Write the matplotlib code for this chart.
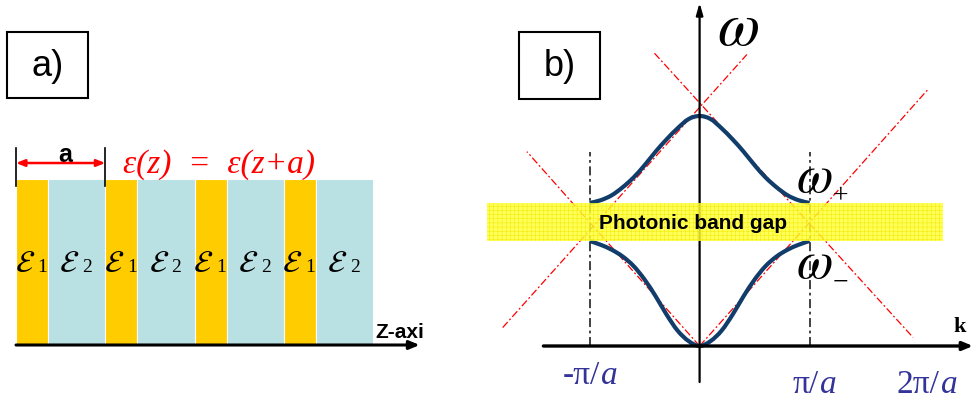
import matplotlib
matplotlib.use("Agg")
import matplotlib.pyplot as plt
from matplotlib.patches import Rectangle, PathPatch
from matplotlib.path import Path

plt.rcParams['mathtext.fontset'] = 'stix'

# ---------------- data ----------------
# panel a: 1D photonic crystal, thicknesses in units of the period a
n_periods = 4
eps1_thickness = 0.36
eps2_thickness = 0.64
stack_height = 1.86
layer_labels = ["1", "2"]
z_axis_end = 4.52

# panel b: band diagram, k in units of pi/a, omega in units of mid-gap
upper_k = [-1.0, -0.9, -0.8, -0.7, -0.6, -0.5, -0.4, -0.3, -0.2, -0.1, 0.0,
           0.1, 0.2, 0.3, 0.4, 0.5, 0.6, 0.7, 0.8, 0.9, 1.0]
upper_w = [1.163, 1.185, 1.225, 1.29, 1.37, 1.47, 1.58, 1.68, 1.77, 1.845, 1.87,
           1.845, 1.77, 1.68, 1.58, 1.47, 1.37, 1.29, 1.225, 1.185, 1.163]
lower_k = [-1.0, -0.9, -0.8, -0.7, -0.6, -0.5, -0.4, -0.3, -0.2, -0.1, 0.0,
           0.1, 0.2, 0.3, 0.4, 0.5, 0.6, 0.7, 0.8, 0.9, 1.0]
lower_w = [0.854, 0.823, 0.783, 0.728, 0.65, 0.54, 0.405, 0.255, 0.125, 0.04, 0.0,
           0.04, 0.125, 0.255, 0.405, 0.54, 0.65, 0.728, 0.783, 0.823, 0.854]
light_k0 = [0.0, 0.0, -0.41, -1.79]
light_w0 = [0.0, 0.0, 2.38, 0.15]
light_k1 = [2.07, -1.57, 1.94, 0.43]
light_w1 = [2.08, 1.58, 0.07, 2.37]
zone_edges = [-1.0, 1.0]
zone_line_top = 1.577
gap_bottom = 0.854
gap_top = 1.163
gap_k = [-1.93, 2.21]
tick_k = [-0.996, 0.99, 2.095]
tick_labels = ['-π/', 'π/', '2π/']
tick_base = [-0.309, -0.382, -0.382]

W, H = 974, 405
fig = plt.figure(figsize=(W / 100, H / 100), dpi=100)


def smooth_path(xs, ys):
    """Smooth curve through the given points (Catmull-Rom drawn as cubic Beziers)."""
    pts = list(zip(xs, ys))
    n = len(pts)
    verts = [pts[0]]
    codes = [Path.MOVETO]
    for i in range(n - 1):
        p0 = pts[max(i - 1, 0)]
        p1 = pts[i]
        p2 = pts[i + 1]
        p3 = pts[min(i + 2, n - 1)]
        c1 = (p1[0] + (p2[0] - p0[0]) / 6, p1[1] + (p2[1] - p0[1]) / 6)
        c2 = (p2[0] - (p3[0] - p1[0]) / 6, p2[1] - (p3[1] - p1[1]) / 6)
        verts += [c1, c2, p2]
        codes += [Path.CURVE4] * 3
    return Path(verts, codes)


# ---------------- panel a ----------------
sa = 89.3
axa = fig.add_axes([0, 0, 1, 1])
axa.set_xlim(-16 / sa, (W - 16) / sa)
axa.set_ylim(-(H - 345) / sa, 345 / sa)
axa.axis('off')

yellow = '#FFCC00'
cyan = '#B9E0E3'
x = 0.0
for p in range(n_periods):
    for th, col, lab in [(eps1_thickness, yellow, layer_labels[0]),
                         (eps2_thickness, cyan, layer_labels[1])]:
        axa.add_patch(Rectangle((x, 0), th, stack_height, facecolor=col,
                                edgecolor='white', lw=0.8, zorder=1))
        cx = x + th / 2
        axa.annotate(r'$\mathcal{E}$', (cx, 0.82), xytext=(2, 0),
                     textcoords='offset points', ha='right', va='baseline',
                     fontsize=22, color='black', zorder=3)
        axa.annotate(lab, (cx, 0.82), xytext=(4, 0), textcoords='offset points',
                     ha='left', va='baseline', fontsize=14,
                     family='Liberation Serif', color='black', zorder=3)
        x += th

# z axis
axa.annotate('', xy=(z_axis_end, 0), xytext=(0, 0),
             arrowprops=dict(arrowstyle='-|>,head_length=0.6,head_width=0.25',
                             lw=2.2, color='black', shrinkA=0, shrinkB=0), zorder=4)
axa.text((375 - 16) / sa, (345 - 338) / sa, 'Z-axi', fontsize=15, fontweight='bold',
         family='Liberation Sans', ha='left', va='baseline')

# period marker
period = eps1_thickness + eps2_thickness
for xx in [0, period]:
    axa.plot([xx, xx], [1.78, 2.206], color='black', lw=1.2, zorder=4)
axa.annotate('', xy=(period, 2.038), xytext=(0, 2.038),
             arrowprops=dict(arrowstyle='<|-|>,head_length=0.5,head_width=0.2',
                             lw=1.8, color='#FF0000', shrinkA=0, shrinkB=0), zorder=4)
axa.text(period * 0.55, 2.05, 'a', fontsize=18, fontweight='bold',
         family='Liberation Sans', ha='center', va='baseline')
axa.text((219 - 16) / sa, 1.926, 'ε(z)  =  ε(z+a)', fontsize=24, color='#FF0000',
         family='Liberation Serif', style='italic', ha='center', va='baseline')

# ---------------- panel b ----------------
kx, wy = 110.0, 123.0
axb = fig.add_axes([0, 0, 1, 1])
axb.set_xlim(-699.6 / kx, (W - 699.6) / kx)
axb.set_ylim(-(H - 346) / wy, 346 / wy)
axb.axis('off')
axb.patch.set_alpha(0)

for k0, w0, k1, w1 in zip(light_k0, light_w0, light_k1, light_w1):
    axb.plot([k0, k1], [w0, w1], color='#FF0000', lw=0.9,
             linestyle=(0, (6, 2, 1.5, 2)), zorder=2)
for ke in zone_edges:
    axb.plot([ke, ke], [0, zone_line_top], color='#333333', lw=1.3,
             linestyle=(0, (5, 2, 1.5, 2)), zorder=2)

for ks, ws in [(upper_k, upper_w), (lower_k, lower_w)]:
    axb.add_patch(PathPatch(smooth_path(ks, ws), facecolor='none', edgecolor='#123D6A',
                            lw=3.0, capstyle='butt', zorder=3))

# axes arrows
axb.annotate('', xy=(2.485, 0), xytext=(-1.42, 0),
             arrowprops=dict(arrowstyle='-|>,head_length=0.6,head_width=0.25',
                             lw=2.4, color='black', shrinkA=0, shrinkB=0), zorder=4)
axb.annotate('', xy=(0, 2.79), xytext=(0, -0.293),
             arrowprops=dict(arrowstyle='-|>,head_length=0.7,head_width=0.2',
                             lw=1.6, color='black', shrinkA=0, shrinkB=0), zorder=4)

# band gap
plt.rcParams['hatch.linewidth'] = 0.4
axb.add_patch(Rectangle((gap_k[0], gap_bottom), gap_k[1] - gap_k[0], gap_top - gap_bottom,
                        facecolor='#FFFF33', edgecolor='#F2E600', hatch='++++', lw=0,
                        alpha=0.82, zorder=5))
axb.text(-0.055, 0.951, 'Photonic band gap', fontsize=15, fontweight='bold',
         family='Liberation Sans', ha='center', va='baseline', zorder=6)

for kt, lab, yb in zip(tick_k, tick_labels, tick_base):
    axb.annotate(lab, (kt, yb), xytext=(7, 0), textcoords='offset points',
                 fontsize=24, color='#333399', family='Liberation Serif',
                 ha='right', va='baseline')
    axb.annotate('a', (kt, yb), xytext=(8, 0), textcoords='offset points',
                 fontsize=24, color='#333399', family='Liberation Serif', style='italic',
                 ha='left', va='baseline')

axb.text(0.349, 2.45, r'$\omega$', fontsize=44, ha='center', va='baseline')
axb.text(1.04, 1.252, r'$\omega$', fontsize=38, ha='center', va='baseline')
axb.text(1.04, 0.553, r'$\omega$', fontsize=38, ha='center', va='baseline')
axb.text(1.276, 1.211, '+', fontsize=20, family='Liberation Serif', ha='center', va='center')
axb.text(1.276, 0.512, '−', fontsize=20, family='Liberation Serif', ha='center', va='center')
axb.text(2.36, 0.11, 'k', fontsize=16, fontweight='bold', family='Liberation Serif',
         ha='center', va='baseline')

# label boxes
for (x0, x1, y0, y1, lab) in [(7, 88, 32, 98, 'a)'), (519, 600, 32, 99, 'b)')]:
    fig.patches.append(Rectangle((x0 / W, 1 - y1 / H), (x1 - x0) / W, (y1 - y0) / H,
                                 transform=fig.transFigure, fill=False,
                                 edgecolor='black', lw=1.5))
    fig.text((x0 + x1) / 2 / W, 1 - 67 / H, lab, fontsize=26, family='Liberation Sans',
             ha='center', va='center')

fig.savefig('out.png', dpi=100)
